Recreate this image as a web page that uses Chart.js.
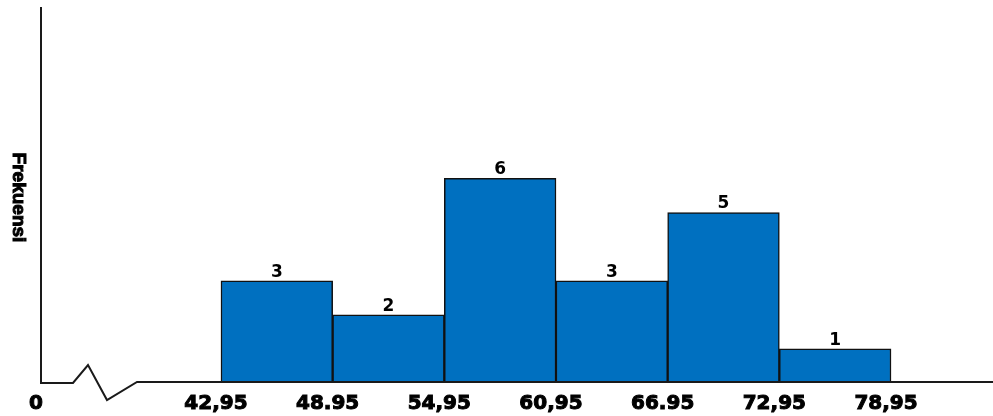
<!DOCTYPE html>
<html>
<head>
<meta charset="utf-8">
<script src="https://cdn.jsdelivr.net/npm/chart.js@4"></script>
<style>
  html, body { margin: 0; padding: 0; background: #ffffff; }
  #wrap { width: 993px; height: 416px; position: relative; }
</style>
</head>
<body>
<div id="wrap"><canvas id="histChart"></canvas></div>
<script>
// Histogram data: class midpoints (edges +/- 3) and frequencies
const classEdges = [42.95, 48.95, 54.95, 60.95, 66.95, 72.95, 78.95];
const frequencies = [3, 2, 6, 3, 5, 1];
const tickLabels = ['0', '42,95', '48.95', '54,95', '60,95', '66.95', '72,95', '78,95'];
const yTitle = 'Frekuensi';

// x axis is broken: the left end stands for 0
const xMin = 33.28;
const xMax = 84.43;
const yMax = 11;

const points = frequencies.map((f, i) => ({ x: (classEdges[i] + classEdges[i + 1]) / 2, y: f }));
const tickValues = [xMin, ...classEdges];

// baseline with a zigzag break + rotated y title + value labels
const decorPlugin = {
    id: 'decor',
    afterDatasetsDraw(chart) {
        const { ctx, chartArea } = chart;
        const left = chartArea.left;
        const base = chartArea.bottom;

        ctx.save();
        ctx.strokeStyle = '#1a1a1a';
        ctx.lineWidth = 2;
        ctx.lineJoin = 'miter';
        ctx.beginPath();
        ctx.moveTo(left, base);
        ctx.lineTo(left + 32, base);
        ctx.lineTo(left + 47, base - 18);
        ctx.lineTo(left + 66, base + 17);
        ctx.lineTo(left + 96, base - 1);
        ctx.lineTo(chart.width, base - 1);
        ctx.stroke();

        // value labels
        ctx.fillStyle = '#000000';
        ctx.font = 'bold 17px "DejaVu Sans", sans-serif';
        ctx.textAlign = 'center';
        ctx.textBaseline = 'bottom';
        const meta = chart.getDatasetMeta(0);
        meta.data.forEach((bar, i) => {
            ctx.fillText(String(frequencies[i]), bar.x, bar.y);
        });

        // y title, reading top to bottom
        ctx.translate(18, (chartArea.top + chartArea.bottom) / 2 + 2);
        ctx.rotate(Math.PI / 2);
        ctx.font = 'bold 19px "Liberation Sans", Arial, sans-serif';
        ctx.textBaseline = 'middle';
        ctx.lineWidth = 1;
        ctx.strokeStyle = '#000000';
        ctx.fillText(yTitle, 0, 0);
        ctx.strokeText(yTitle, 0, 0);
        ctx.restore();
    }
};

new Chart(document.getElementById('histChart'), {
    type: 'bar',
    data: {
        datasets: [{
            data: points,
            backgroundColor: '#0070C0',
            borderColor: '#111111',
            borderWidth: 1.5,
            barPercentage: 1,
            categoryPercentage: 1
        }]
    },
    options: {
        responsive: true,
        maintainAspectRatio: false,
        animation: false,
        layout: { padding: { left: 41, top: 8, right: 0, bottom: 0 } },
        plugins: {
            legend: { display: false },
            tooltip: { enabled: false }
        },
        scales: {
            x: {
                type: 'linear',
                min: xMin,
                max: xMax,
                offset: false,
                border: { display: false },
                grid: { display: false, drawTicks: false },
                afterBuildTicks: (scale) => {
                    scale.ticks = tickValues.map(v => ({ value: v }));
                },
                afterFit: (scale) => {
                    scale.height = 33;
                },
                ticks: {
                    autoSkip: false,
                    maxRotation: 0,
                    padding: 9,
                    labelOffset: -5,
                    color: '#000000',
                    textStrokeColor: '#000000',
                    textStrokeWidth: 1,
                    font: { family: '"DejaVu Sans", sans-serif', weight: 'bold', size: 20 },
                    callback: (value, index) => tickLabels[index]
                }
            },
            y: {
                min: 0,
                max: yMax,
                border: { display: true, color: '#1a1a1a', width: 2 },
                grid: { display: false, drawTicks: false },
                ticks: { display: false }
            }
        }
    },
    plugins: [decorPlugin]
});
</script>
</body>
</html>
